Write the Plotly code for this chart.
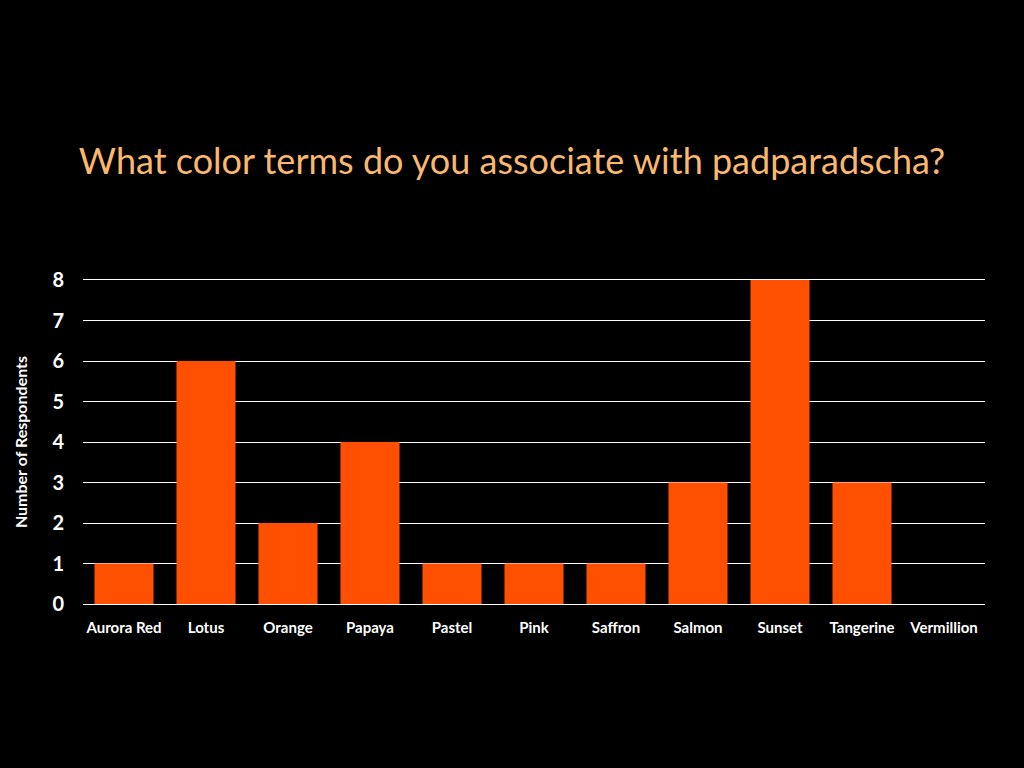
import plotly.graph_objects as go

categories = ["Aurora Red", "Lotus", "Orange", "Papaya", "Pastel", "Pink",
              "Saffron", "Salmon", "Sunset", "Tangerine", "Vermillion"]
respondents = [1, 6, 2, 4, 1, 1, 1, 3, 8, 3, 0]
y_ticks = [0, 1, 2, 3, 4, 5, 6, 7, 8]

fig = go.Figure(go.Bar(x=categories, y=respondents, marker_color="#FF4F00",
                       marker_line_width=0))

fig.update_layout(
    width=1024, height=768,
    paper_bgcolor="black", plot_bgcolor="black",
    margin=dict(l=83, r=39, t=280, b=164),
    bargap=0.28,
    showlegend=False,
    title=dict(text="What color terms do you associate with padparadscha?",
               x=0.5, xanchor="center", y=0.79, yanchor="middle",
               font=dict(family="Lato", size=36, color="#F9B86E")),
    font=dict(family="Lato", color="white"),
)
fig.update_xaxes(showgrid=False, showline=True, mirror=True, linecolor="white",
                 linewidth=1, ticks="", ticklabelstandoff=10,
                 tickfont=dict(family="Lato", size=15, color="white", weight="bold"))
fig.update_yaxes(range=[0, 8], tickvals=y_ticks, showgrid=True, gridcolor="white",
                 gridwidth=1, zeroline=False, showline=False, ticks="",
                 ticklabelstandoff=18,
                 tickfont=dict(family="Lato", size=20, color="white", weight="bold"),
                 title=dict(text="Number of Respondents", standoff=20,
                            font=dict(family="Lato", size=16, color="white",
                                      weight="bold")))

fig.write_html("out.html", config={"displayModeBar": False},
               post_script="document.body.style.margin='0';"
                           "document.body.style.background='black';")
